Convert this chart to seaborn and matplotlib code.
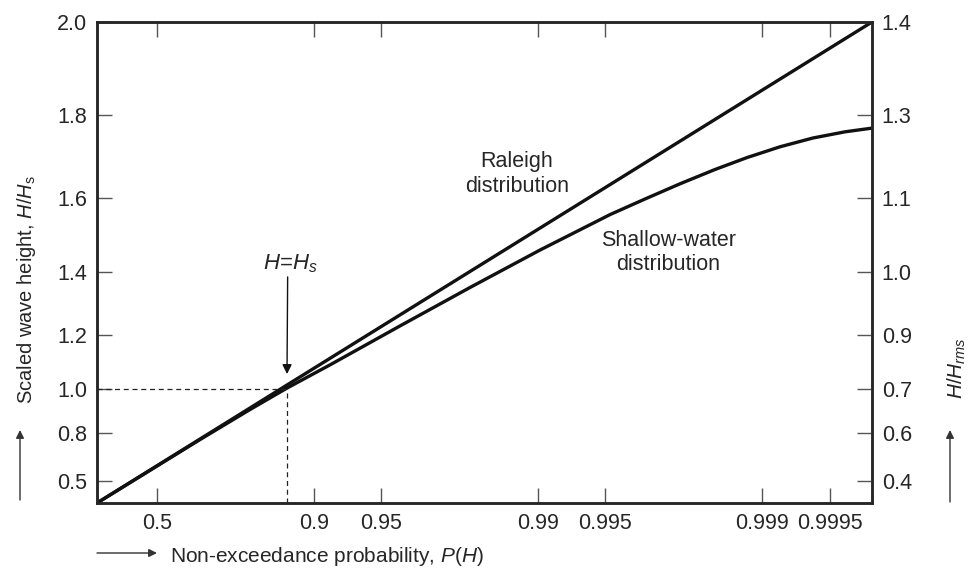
import numpy as np
import matplotlib
matplotlib.use("Agg")
import matplotlib.pyplot as plt
import seaborn as sns

# values (P = non-exceedance probability, H = H/Hs)
rayleigh_p = [0.075, 0.8685, 0.99021, 0.999676]
rayleigh_h = [0.265, 1.017, 1.522, 2.0]

shallow_p = [0.075, 0.67874, 0.80772, 0.8685, 0.91543, 0.95878, 0.97991,
             0.990207, 0.993166, 0.995228, 0.996669, 0.997674, 0.998376,
             0.998831, 0.999167, 0.999406, 0.999573, 0.999676]
shallow_h = [0.265, 0.7671, 0.9131, 1.0046, 1.0948, 1.2316, 1.3531,
             1.4618, 1.5105, 1.5577, 1.5981, 1.6365, 1.6718,
             1.7007, 1.7264, 1.7471, 1.7615, 1.770]

p_ticks = [0.5, 0.9, 0.95, 0.99, 0.995, 0.999, 0.9995]
p_labels = ["0.5", "0.9", "0.95", "0.99", "0.995", "0.999", "0.9995"]
h_ticks = [0.5, 0.8, 1.0, 1.2, 1.4, 1.6, 1.8, 2.0]
h_labels = ["0.5", "0.8", "1.0", "1.2", "1.4", "1.6", "1.8", "2.0"]
hrms_labels = ["0.4", "0.6", "0.7", "0.9", "1.0", "1.1", "1.3", "1.4"]

p_hs = 0.8685   # where H = Hs on the Rayleigh line
h_hs = 1.0
p_range = (0.075, 0.999676)
h_range = (0.265, 2.0)

sns.set_style("ticks")
plt.rcParams["font.family"] = ["Liberation Sans", "DejaVu Sans"]
plt.rcParams["mathtext.fontset"] = "custom"
plt.rcParams["mathtext.rm"] = "Liberation Sans"
plt.rcParams["mathtext.it"] = "Liberation Sans:italic"


# Rayleigh paper: x ~ -ln(1-P), y ~ H^2
def fwd_p(p):
    p = np.asarray(p, dtype=float)
    return -np.log(np.clip(1 - p, 1e-12, None))


def inv_p(u):
    return 1 - np.exp(-np.asarray(u, dtype=float))


def fwd_h(h):
    h = np.asarray(h, dtype=float)
    return np.sign(h) * h ** 2


def inv_h(v):
    v = np.asarray(v, dtype=float)
    return np.sign(v) * np.sqrt(np.abs(v))


fig = plt.figure(figsize=(9.71, 5.72), dpi=100)
ax = fig.add_axes([97 / 971, 1 - 503 / 572, 775 / 971, 481 / 572])

sns.lineplot(x=rayleigh_p, y=rayleigh_h, ax=ax, color="#111111", lw=2.4, sort=False)
sns.lineplot(x=shallow_p, y=shallow_h, ax=ax, color="#111111", lw=2.4, sort=False)

ax.set_xscale("function", functions=(fwd_p, inv_p))
ax.set_yscale("function", functions=(fwd_h, inv_h))
ax.set_xlim(*p_range)
ax.set_ylim(*h_range)

# dashed guide lines at H = Hs
ax.plot([p_range[0], p_hs], [h_hs, h_hs], ls=(0, (4, 3)), color="#222222", lw=0.9)
ax.plot([p_hs, p_hs], [h_range[0], h_hs], ls=(0, (4, 3)), color="#222222", lw=0.9)

ax.set_xticks(p_ticks)
ax.set_xticklabels(p_labels)
ax.set_yticks(h_ticks)
ax.set_yticklabels(h_labels)
ax.minorticks_off()
ax.tick_params(direction="in", length=11, width=1.0, color="#555555",
               labelsize=15.5, pad=7, top=True)
ax.set_xlabel("")
ax.set_ylabel("")
for s in ax.spines.values():
    s.set_linewidth(1.8)
    s.set_visible(True)

ax2 = ax.twinx()
ax2.set_yscale("function", functions=(fwd_h, inv_h))
ax2.set_ylim(*h_range)
ax2.set_yticks(h_ticks)
ax2.set_yticklabels(hrms_labels)
ax2.minorticks_off()
ax2.tick_params(direction="in", length=11, width=1.0, color="#555555",
                labelsize=15.5, pad=7)
for s in ax2.spines.values():
    s.set_linewidth(1.8)

# curve labels
ax.text(0.542, 0.684, "Raleigh\ndistribution", transform=ax.transAxes,
        ha="center", va="center", fontsize=15.5, linespacing=1.2)
ax.text(0.737, 0.520, "Shallow-water\ndistribution", transform=ax.transAxes,
        ha="center", va="center", fontsize=15.5, linespacing=1.2)
ax.text(0.249, 0.497, "$H$=$H_s$", transform=ax.transAxes,
        ha="center", va="center", fontsize=16)
ax.annotate("", xy=(p_hs, 1.06), xytext=(0.246, 0.470),
            xycoords="data", textcoords="axes fraction",
            arrowprops=dict(arrowstyle="-|>", color="#111111", lw=1.0,
                            mutation_scale=14, shrinkA=0, shrinkB=0))

# axis titles with arrows, placed in figure coordinates
fig.text(26 / 971, 1 - 290 / 572, "Scaled wave height, $H$/$H_\\mathrm{s}$",
         rotation=90, ha="center", va="center", fontsize=14.5)
fig.text(957 / 971, 1 - 368 / 572, "$H$/$H_{rms}$",
         rotation=90, ha="center", va="center", fontsize=15)
fig.text(170 / 971, 1 - 556 / 572, "Non-exceedance probability, $P$($H$)",
         ha="left", va="center", fontsize=15)

arrow = dict(arrowstyle="-|>", color="#333333", lw=1.0, mutation_scale=12,
             shrinkA=0, shrinkB=0)
fig.add_artist(matplotlib.patches.FancyArrowPatch(
    (20 / 971, 1 - 500 / 572), (20 / 971, 1 - 430 / 572),
    transform=fig.transFigure, **arrow))
fig.add_artist(matplotlib.patches.FancyArrowPatch(
    (950 / 971, 1 - 502 / 572), (950 / 971, 1 - 430 / 572),
    transform=fig.transFigure, **arrow))
fig.add_artist(matplotlib.patches.FancyArrowPatch(
    (97 / 971, 1 - 553 / 572), (157 / 971, 1 - 553 / 572),
    transform=fig.transFigure, **arrow))

fig.savefig("out.png", dpi=100)
